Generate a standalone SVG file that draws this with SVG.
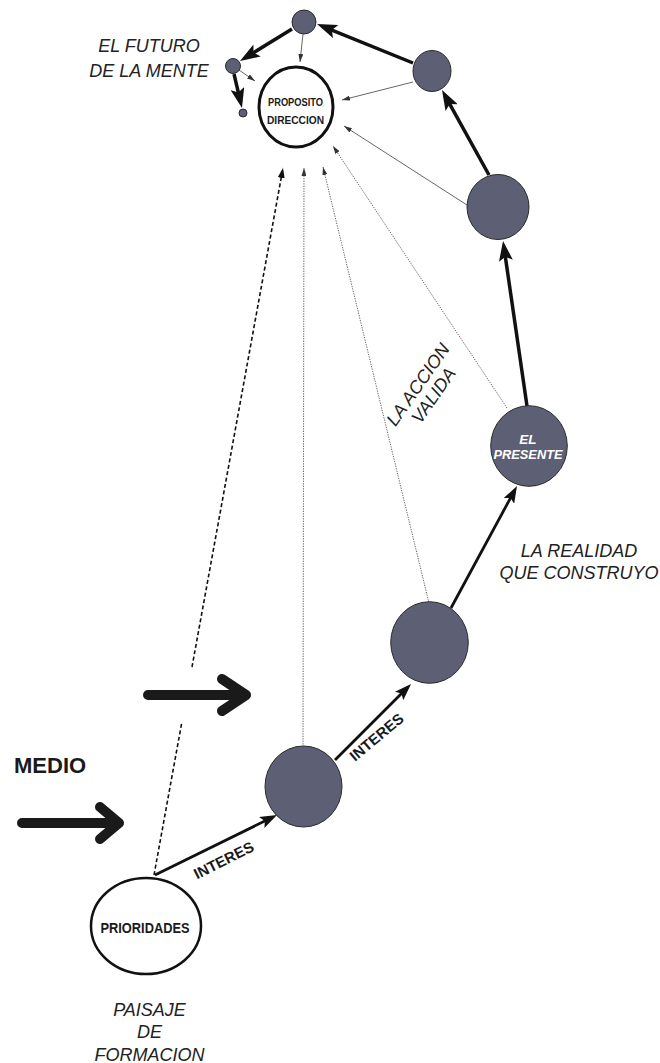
<svg xmlns="http://www.w3.org/2000/svg" width="660" height="1063" viewBox="0 0 660 1063">
<style>
.node{fill:#5d5f75;stroke:#2a2a2a;stroke-width:1}
.wnode{fill:#fff;stroke:#111}
.thick{stroke:#111;fill:none;stroke-width:3.5;marker-end:url(#ah)}
.mid{stroke:#111;fill:none;stroke-width:2.8;marker-end:url(#ah2)}
.thin{stroke:#555;fill:none;stroke-width:0.9;marker-end:url(#as)}
.dot{stroke-dasharray:1.3 1.2}
.dash{stroke:#111;fill:none;stroke-width:1.6;stroke-dasharray:4 2.5}
.big{stroke:#1a1a1a;fill:none;stroke-width:10;stroke-linecap:round;stroke-linejoin:round}
text{font-family:"Liberation Sans",Arial,sans-serif;fill:#1a1a1a}
.it{font-style:italic;font-size:18px;text-anchor:middle;fill:#222}
.b{font-weight:bold}
</style>
<defs>
<marker id="ah" markerUnits="userSpaceOnUse" markerWidth="20" markerHeight="14" refX="14" refY="7" orient="auto"><path d="M0,0 L20,7 L0,14 L4,7 z" fill="#111"/></marker>
<marker id="ah2" markerUnits="userSpaceOnUse" markerWidth="17" markerHeight="12" refX="12" refY="6" orient="auto"><path d="M0,0 L17,6 L0,12 L3.5,6 z" fill="#111"/></marker>
<marker id="as" markerUnits="userSpaceOnUse" markerWidth="8" markerHeight="5" refX="8" refY="2.5" orient="auto"><path d="M0,0 L8,2.5 L0,5 z" fill="#333"/></marker>
<marker id="ad" markerUnits="userSpaceOnUse" markerWidth="10" markerHeight="7" refX="10" refY="3.5" orient="auto"><path d="M0,0 L10,3.5 L0,7 z" fill="#111"/></marker>
</defs>

<g id="connectors">
<path class="thin" d="M303,34 L300,62"/>
<path class="thin" d="M239,70 L255,81"/>
<path class="thin" d="M413,82 L342,100"/>
<path class="thin" d="M467,205 L344,126"/>
<path class="thin dot" d="M507,408 L333,146"/>
<path class="thin dot" d="M429,603 L323,167"/>
<path class="thin dot" d="M303,747 L304,168"/>
<path class="dash" d="M154,875 L181.7,723"/>
<path class="dash" d="M192,667 L283,168" marker-end="url(#ad)"/>
<path class="thick" d="M413,63 L322.6,26.3"/>
<path class="thick" d="M489,175 L444.9,95.3"/>
<path class="thick" d="M292,29 L245.1,57.9"/>
<path class="thick" d="M234,74 L240.6,102.2"/>
<path class="thick" d="M527,406 L503.9,246.9"/>
<path class="mid" d="M451,608 L514.6,490.4"/>
<path class="mid" d="M335,760 L407.5,687.5"/>
<path class="mid" d="M155,875 L272.5,817.2"/>
<path class="big" d="M22,823 L119,823 M100,807 L119,823 L100,839"/>
<path class="big" d="M148,695 L246,695 M222,679 L246,695 L222,711"/>
</g>

<g id="n-top"><circle class="node" cx="304" cy="22" r="12"/></g>
<g id="n-small"><circle class="node" cx="233" cy="66" r="7.5"/></g>
<g id="n-tiny"><circle class="node" cx="243" cy="113" r="4"/></g>
<g id="n-c4"><ellipse class="node" cx="432" cy="71" rx="19" ry="20.5"/></g>
<g id="n-c5"><ellipse class="node" cx="498" cy="207" rx="31" ry="32.5"/></g>
<g id="n-presente">
<ellipse class="node" cx="529" cy="446" rx="38.3" ry="40.3"/>
<text x="528" y="444" class="b" font-style="italic" font-size="13.5" text-anchor="middle" style="fill:#fff">EL</text>
<text x="528" y="458.5" class="b" font-style="italic" font-size="13.5" text-anchor="middle" textLength="69" lengthAdjust="spacingAndGlyphs" style="fill:#fff">PRESENTE</text>
</g>
<g id="n-c7"><ellipse class="node" cx="429.5" cy="642.5" rx="38.8" ry="40.8"/></g>
<g id="n-c8"><ellipse class="node" cx="303.5" cy="786.5" rx="38.5" ry="40.5"/></g>

<g id="n-proposito">
<ellipse class="wnode" cx="296" cy="107" rx="37" ry="40" stroke-width="3"/>
<text x="295.5" y="106" class="b" font-size="11.5" text-anchor="middle" textLength="55" lengthAdjust="spacingAndGlyphs">PROPOSITO</text>
<text x="295.5" y="123.5" class="b" font-size="11.5" text-anchor="middle" textLength="57" lengthAdjust="spacingAndGlyphs">DIRECCION</text>
</g>

<g id="n-prioridades">
<ellipse class="wnode" cx="146" cy="926" rx="55" ry="48" stroke-width="2.5"/>
<text x="145" y="933" class="b" font-size="15" text-anchor="middle" textLength="89" lengthAdjust="spacingAndGlyphs">PRIORIDADES</text>
</g>

<g id="labels">
<text class="it" x="149" y="52">EL FUTURO</text>
<text class="it" x="149" y="76.5">DE LA MENTE</text>
<g transform="translate(423,388) rotate(-55)">
<text class="it" font-size="17" x="0" y="0">LA ACCION</text>
<text class="it" font-size="17" x="0" y="19">VALIDA</text>
</g>
<text class="it" x="579" y="556.7">LA REALIDAD</text>
<text class="it" x="579" y="579.3">QUE CONSTRUYO</text>
<text class="b" x="14" y="773" font-size="22">MEDIO</text>
<text class="b" font-size="15" transform="translate(197,879.5) rotate(-26.6)">INTERES</text>
<text class="b" font-size="15" transform="translate(355,762) rotate(-40)">INTERES</text>
<text class="it" x="149.5" y="1016">PAISAJE</text>
<text class="it" x="149.5" y="1038.3">DE</text>
<text class="it" x="149.5" y="1060.5">FORMACION</text>
</g>
</svg>
